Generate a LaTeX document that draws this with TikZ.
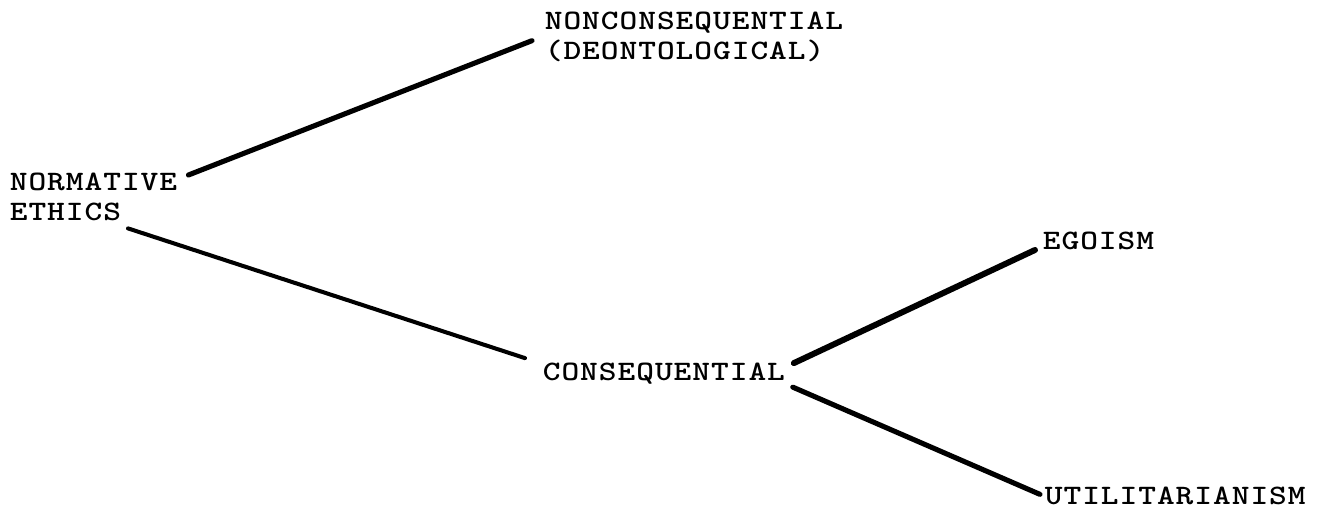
\documentclass[tikz,border=0pt]{standalone}
\usepackage{fontspec}
\usepackage{graphicx}
\usepackage{tikz}
\newlength{\typepitch}
\setlength{\typepitch}{0.374cm}
\makeatletter
\newcommand{\spaceout}[1]{\@tfor\ty@ch:=#1\do{\makebox[\typepitch][c]{\scalebox{1.2}[1]{\ty@ch}}}}
\makeatother
\tikzset{
  term/.style={font=\ttfamily\bfseries\fontsize{16}{17}\selectfont, inner sep=0pt, align=left},
  branch/.style={line width=2.9pt, line cap=round}
}

\begin{document}
\begin{tikzpicture}
\useasboundingbox (0,0) rectangle (26.34,10.2);

% Root
\node[term, anchor=north west] (norm) at (0.18,6.74) {\spaceout{NORMATIVE}\\\spaceout{ETHICS}};

% First split
\node[term, anchor=north west] (noncon) at (10.88,9.96) {\spaceout{NONCONSEQUENTIAL}\\\spaceout{(DEONTOLOGICAL)}};
\node[term, anchor=base west] (cons) at (10.84,2.58) {\spaceout{CONSEQUENTIAL}};

% Second split
\node[term, anchor=base west] (ego) at (20.84,5.20) {\spaceout{EGOISM}};
\node[term, anchor=base west] (util) at (20.88,0.10) {\spaceout{UTILITARIANISM}};

% Connections
\draw[branch] ([shift={(0.21,-0.04)}]norm.north east) -- ([shift={(-0.24,-0.07)}]noncon.west);
\draw[branch, line width=2.3pt] ([shift={(2.38,-0.14)}]norm.south west) -- ([shift={(-0.34,0.10)}]cons.north west);
\draw[branch, line width=3.4pt] ([shift={(0.16,0)}]cons.north east) -- ([shift={(-0.14,0)}]ego.base west);
\draw[branch] ([shift={(0.14,-0.04)}]cons.south east) -- ([shift={(-0.08,0.04)}]util.west);
\end{tikzpicture}
\end{document}
